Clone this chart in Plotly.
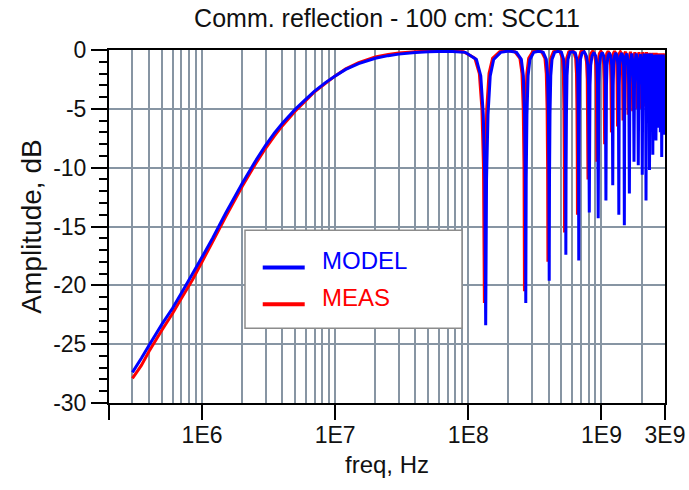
import plotly.graph_objects as go

# ---------------- data ----------------
TITLE = "Comm. reflection - 100 cm: SCC11"

MODEL_FREQ = [
    3.0e5, 3.5e5, 4.0e5, 5.0e5, 6.0e5, 7.0e5, 8.5e5, 1.0e6, 1.2e6, 1.5e6, 2.0e6, 2.5e6, 3.0e6, 3.5e6,
    4.0e6, 5.0e6, 6.0e6, 7.0e6, 8.5e6, 1.0e7, 1.2e7, 1.5e7, 2.0e7, 2.5e7, 3.0e7, 4.0e7, 5.0e7, 7.0e7,
    0.95e8, 1.15e8, 1.24e8, 1.295e8, 1.33e8, 1.35e8, 1.37e8, 1.405e8, 1.46e8, 1.55e8, 1.75e8, 2.02e8,
    2.30e8, 2.50e8, 2.59e8, 2.645e8, 2.68e8, 2.70e8, 2.72e8, 2.755e8, 2.81e8, 2.90e8, 3.10e8, 3.37e8,
    3.65e8, 3.85e8, 3.94e8, 3.995e8, 4.03e8, 4.05e8, 4.07e8, 4.105e8, 4.16e8, 4.25e8, 4.45e8, 4.72e8,
    5.00e8, 5.20e8, 5.29e8, 5.345e8, 5.38e8, 5.40e8, 5.42e8, 5.455e8, 5.51e8, 5.60e8, 5.80e8, 6.07e8,
    6.35e8, 6.55e8, 6.64e8, 6.695e8, 6.73e8, 6.75e8, 6.77e8, 6.805e8, 6.86e8, 6.95e8, 7.15e8, 7.42e8,
    7.70e8, 7.90e8, 8.00e8, 8.10e8, 8.20e8, 8.30e8, 8.50e8, 8.775e8,
    9.05e8, 9.25e8, 9.35e8, 9.45e8, 9.55e8, 9.65e8, 9.85e8, 1.0125e9,
    1.04e9, 1.06e9, 1.07e9, 1.08e9, 1.09e9, 1.10e9, 1.12e9, 1.1475e9,
    1.175e9, 1.195e9, 1.205e9, 1.215e9, 1.225e9, 1.235e9, 1.255e9, 1.2825e9,
    1.31e9, 1.33e9, 1.34e9, 1.35e9, 1.36e9, 1.37e9, 1.39e9, 1.4175e9,
    1.445e9, 1.465e9, 1.475e9, 1.485e9, 1.495e9, 1.505e9, 1.525e9, 1.5525e9,
    1.585e9, 1.605e9, 1.62e9, 1.635e9, 1.655e9, 1.6875e9,
    1.72e9, 1.74e9, 1.755e9, 1.77e9, 1.79e9, 1.8225e9,
    1.855e9, 1.875e9, 1.89e9, 1.905e9, 1.925e9, 1.9575e9,
    1.99e9, 2.01e9, 2.025e9, 2.04e9, 2.06e9, 2.085e9, 2.0925e9, 2.10e9,
    2.125e9, 2.145e9, 2.16e9, 2.175e9, 2.195e9, 2.22e9, 2.2275e9, 2.235e9,
    2.26e9, 2.28e9, 2.295e9, 2.31e9, 2.33e9, 2.355e9, 2.3625e9, 2.37e9,
    2.395e9, 2.415e9, 2.43e9, 2.445e9, 2.465e9, 2.49e9, 2.4975e9, 2.505e9,
    2.53e9, 2.55e9, 2.565e9, 2.58e9, 2.60e9, 2.625e9, 2.6325e9, 2.64e9,
    2.665e9, 2.685e9, 2.70e9, 2.715e9, 2.735e9, 2.76e9, 2.7675e9, 2.775e9,
    2.80e9, 2.82e9, 2.835e9, 2.85e9, 2.87e9, 2.895e9, 2.9025e9, 2.91e9,
    2.935e9, 2.955e9, 2.97e9, 2.985e9, 3.0e9,
]
MODEL_DB = [
    -27.4, -26.2, -25.1, -23.3, -21.95, -20.65, -19.0, -17.6, -16.0, -13.9, -11.35, -9.5, -8.1, -7.05,
    -6.25, -5.05, -4.2, -3.5, -2.75, -2.2, -1.65, -1.15, -0.70, -0.48, -0.35, -0.22, -0.15, -0.10,
    -0.2, -0.8, -2.2, -5.5, -11.0, -23.4, -11.0, -5.5, -2.2, -0.8, -0.2, -0.08,
    -0.2, -0.8, -2.2, -5.5, -11.0, -21.5, -11.0, -5.5, -2.2, -0.8, -0.2, -0.10,
    -0.2, -0.8, -2.2, -5.5, -11.0, -19.6, -11.0, -5.5, -2.2, -0.8, -0.2, -0.12,
    -0.2, -0.8, -2.2, -5.5, -10.5, -17.4, -10.5, -5.5, -2.2, -0.8, -0.2, -0.15,
    -0.25, -0.8, -2.2, -5.5, -10.5, -17.9, -10.5, -5.5, -2.2, -0.8, -0.25, -0.15,
    -0.5, -1.3, -3.0, -13.8, -3.0, -1.3, -0.5, -0.2,
    -0.5, -1.3, -3.0, -14.3, -3.0, -1.3, -0.5, -0.2,
    -0.5, -1.3, -3.0, -12.8, -3.0, -1.3, -0.5, -0.25,
    -0.5, -1.3, -3.0, -11.5, -3.0, -1.3, -0.5, -0.25,
    -0.5, -1.3, -3.0, -14.0, -3.0, -1.3, -0.5, -0.25,
    -0.5, -1.3, -3.0, -14.9, -3.0, -1.3, -0.5, -0.3,
    -1.0, -3.0, -12.2, -3.0, -1.0, -0.3,
    -1.0, -3.0, -9.5, -3.0, -1.0, -0.3,
    -1.0, -3.0, -9.8, -3.0, -1.0, -0.35,
    -1.0, -3.0, -10.6, -3.0, -1.0, -0.3, -4.5, -0.3,
    -1.0, -3.0, -12.8, -3.0, -1.0, -0.3, -5.0, -0.3,
    -1.0, -3.0, -10.2, -3.0, -1.0, -0.3, -5.5, -0.3,
    -1.0, -3.2, -8.9, -3.2, -1.0, -0.4, -6.0, -0.4,
    -1.0, -3.2, -7.7, -3.2, -1.0, -0.4, -6.5, -0.4,
    -1.0, -3.2, -6.6, -3.2, -1.0, -0.4, -7.0, -0.4,
    -1.0, -3.2, -9.1, -3.2, -1.0, -0.4, -6.5, -0.4,
    -1.0, -3.2, -7.2, -3.2, -1.0,
]

MEAS_FREQ = [
    3.0e5, 3.5e5, 4.0e5, 5.0e5, 6.0e5, 7.0e5, 8.5e5, 1.0e6, 1.2e6, 1.5e6, 2.0e6, 2.5e6, 3.0e6, 3.5e6,
    4.0e6, 5.0e6, 6.0e6, 7.0e6, 8.5e6, 1.0e7, 1.2e7, 1.5e7, 2.0e7, 2.5e7, 3.0e7, 4.0e7, 5.0e7, 7.0e7,
    0.92e8, 1.12e8, 1.21e8, 1.265e8, 1.30e8, 1.32e8, 1.34e8, 1.375e8, 1.43e8, 1.52e8, 1.72e8, 1.98e8,
    2.24e8, 2.44e8, 2.53e8, 2.585e8, 2.62e8, 2.64e8, 2.66e8, 2.695e8, 2.75e8, 2.84e8, 3.04e8, 3.30e8,
    3.56e8, 3.76e8, 3.85e8, 3.905e8, 3.94e8, 3.96e8, 3.98e8, 4.015e8, 4.07e8, 4.16e8, 4.36e8, 4.62e8,
    4.88e8, 5.08e8, 5.17e8, 5.225e8, 5.26e8, 5.28e8, 5.30e8, 5.335e8, 5.39e8, 5.48e8, 5.68e8, 5.94e8,
    6.20e8, 6.40e8, 6.49e8, 6.545e8, 6.58e8, 6.60e8, 6.62e8, 6.655e8, 6.71e8, 6.80e8, 7.00e8, 7.26e8,
    7.52e8, 7.72e8, 7.82e8, 7.92e8, 8.02e8, 8.12e8, 8.32e8, 8.58e8,
    8.84e8, 9.04e8, 9.14e8, 9.24e8, 9.34e8, 9.44e8, 9.64e8, 9.90e8,
    1.016e9, 1.036e9, 1.046e9, 1.056e9, 1.066e9, 1.076e9, 1.096e9, 1.122e9,
    1.148e9, 1.168e9, 1.178e9, 1.188e9, 1.198e9, 1.208e9, 1.228e9, 1.254e9,
    1.280e9, 1.300e9, 1.310e9, 1.320e9, 1.330e9, 1.340e9, 1.360e9, 1.386e9,
    1.412e9, 1.432e9, 1.442e9, 1.452e9, 1.462e9, 1.472e9, 1.492e9, 1.518e9,
    1.549e9, 1.569e9, 1.584e9, 1.599e9, 1.619e9, 1.650e9,
    1.681e9, 1.701e9, 1.716e9, 1.731e9, 1.751e9, 1.782e9,
    1.813e9, 1.833e9, 1.848e9, 1.863e9, 1.883e9, 1.914e9,
    1.945e9, 1.965e9, 1.980e9, 1.995e9, 2.015e9, 2.046e9,
    2.077e9, 2.097e9, 2.112e9, 2.127e9, 2.147e9, 2.178e9,
    2.209e9, 2.229e9, 2.244e9, 2.259e9, 2.279e9, 2.310e9,
    2.341e9, 2.361e9, 2.376e9, 2.391e9, 2.411e9, 2.442e9,
    2.473e9, 2.493e9, 2.508e9, 2.523e9, 2.543e9, 2.574e9,
    2.605e9, 2.625e9, 2.640e9, 2.655e9, 2.675e9, 2.706e9,
    2.737e9, 2.757e9, 2.772e9, 2.787e9, 2.807e9, 2.838e9,
    2.869e9, 2.889e9, 2.904e9, 2.919e9, 2.939e9, 3.0e9,
]
MEAS_DB = [
    -27.9, -26.8, -25.6, -23.8, -22.4, -21.1, -19.5, -18.0, -16.3, -14.2, -11.6, -9.75, -8.35, -7.3,
    -6.45, -5.2, -4.3, -3.55, -2.8, -2.2, -1.6, -1.08, -0.6, -0.38, -0.25, -0.15, -0.10, -0.08,
    -0.15, -0.7, -2.0, -5.0, -10.0, -21.5, -10.0, -5.0, -2.0, -0.7, -0.15, -0.05,
    -0.15, -0.7, -2.0, -5.0, -10.0, -20.5, -10.0, -5.0, -2.0, -0.7, -0.15, -0.05,
    -0.15, -0.7, -2.0, -5.0, -10.0, -18.0, -10.0, -5.0, -2.0, -0.7, -0.15, -0.05,
    -0.15, -0.7, -2.0, -5.0, -9.5, -15.5, -9.5, -5.0, -2.0, -0.7, -0.15, -0.05,
    -0.15, -0.7, -2.0, -5.0, -9.0, -14.0, -9.0, -5.0, -2.0, -0.7, -0.15, -0.05,
    -0.3, -1.0, -2.5, -11.0, -2.5, -1.0, -0.3, -0.1,
    -0.3, -1.0, -2.5, -9.5, -2.5, -1.0, -0.3, -0.1,
    -0.3, -1.0, -2.5, -8.0, -2.5, -1.0, -0.3, -0.1,
    -0.3, -1.0, -2.5, -7.0, -2.5, -1.0, -0.3, -0.1,
    -0.3, -1.0, -2.5, -6.5, -2.5, -1.0, -0.3, -0.15,
    -0.3, -1.0, -2.5, -6.0, -2.5, -1.0, -0.3, -0.15,
    -0.6, -2.0, -5.5, -2.0, -0.6, -0.15,
    -0.6, -2.0, -5.2, -2.0, -0.6, -0.2,
    -0.6, -2.0, -5.0, -2.0, -0.6, -0.2,
    -0.6, -2.0, -5.0, -2.0, -0.6, -0.2,
    -0.6, -2.0, -4.8, -2.0, -0.6, -0.2,
    -0.6, -2.0, -4.5, -2.0, -0.6, -0.25,
    -0.6, -2.0, -4.3, -2.0, -0.6, -0.25,
    -0.6, -2.0, -4.0, -2.0, -0.6, -0.25,
    -0.6, -2.0, -4.0, -2.0, -0.6, -0.3,
    -0.6, -2.0, -3.8, -2.0, -0.6, -0.3,
    -0.6, -2.0, -3.6, -2.0, -0.6, -0.3,
]

X_TICK_VALS = [2e5, 1e6, 1e7, 1e8, 1e9, 3e9]
X_TICK_TEXT = ["", "1E6", "1E7", "1E8", "1E9", "3E9"]
X_GRID_VALS = [3e5, 4e5, 5e5, 6e5, 7e5, 8e5, 9e5,
               2e6, 3e6, 4e6, 5e6, 6e6, 7e6, 8e6, 9e6,
               2e7, 3e7, 4e7, 5e7, 6e7, 7e7, 8e7, 9e7,
               2e8, 3e8, 4e8, 5e8, 6e8, 7e8, 8e8, 9e8,
               2e9]
Y_TICK_VALS = [-30, -25, -20, -15, -10, -5, 0]
Y_TICK_TEXT = ["-30", "-25", "-20", "-15", "-10", "-5", "0"]
LEGEND_NAMES = ["MODEL", "MEAS"]
COLORS = {"MODEL": "#0000ff", "MEAS": "#ff0000"}

FONT = "Arial, 'Liberation Sans', sans-serif"
GRID = "#8795a3"
TXT = "#111111"

fig = go.Figure()
fig.add_trace(go.Scatter(x=MEAS_FREQ, y=MEAS_DB, mode="lines", name="MEAS",
                         line=dict(color=COLORS["MEAS"], width=3, simplify=False),
                         showlegend=False))
fig.add_trace(go.Scatter(x=MODEL_FREQ, y=MODEL_DB, mode="lines", name="MODEL",
                         line=dict(color=COLORS["MODEL"], width=3, simplify=False),
                         showlegend=False))

# manual legend box (paper coords of the plot area)
fig.add_shape(type="rect", xref="paper", yref="paper", x0=0.2446, x1=0.6349, y0=0.2118, y1=0.4897,
              fillcolor="white", line=dict(color="#8c8c8c", width=1.5), layer="above")
leg_rows = [(LEGEND_NAMES[0], 0.3839, 0.4026), (LEGEND_NAMES[1], 0.2798, 0.2977)]
for name, ly, ty in leg_rows:
    fig.add_shape(type="line", xref="paper", yref="paper", x0=0.2765, x1=0.3520, y0=ly, y1=ly,
                  line=dict(color=COLORS[name], width=4), layer="above")
    fig.add_annotation(xref="paper", yref="paper", x=0.3795, y=ty, text=name, showarrow=False,
                       xanchor="left", yanchor="middle",
                       font=dict(family=FONT, size=24, color=COLORS[name]))

fig.update_layout(
    width=689, height=490,
    margin=dict(l=109, r=24, t=50, b=87, autoexpand=False),
    paper_bgcolor="white", plot_bgcolor="white",
    showlegend=False,
    font=dict(family=FONT, size=22, color=TXT),
    title=dict(text=TITLE, x=0.5, xref="paper", y=1 - 18 / 490, yref="container",
               xanchor="center", yanchor="middle",
               font=dict(family=FONT, size=25, color=TXT)),
)
fig.update_xaxes(
    type="log", range=[5.30103, 9.47712], automargin=False,
    tickmode="array", tickvals=X_TICK_VALS, ticktext=X_TICK_TEXT,
    ticks="outside", ticklen=15, tickwidth=2, tickcolor="black",
    ticklabelstandoff=-5,
    showgrid=True, gridcolor=GRID, gridwidth=1.8,
    minor=dict(tickmode="array", tickvals=X_GRID_VALS, showgrid=True, gridcolor=GRID,
               gridwidth=1.8, ticks=""),
    showline=True, linecolor="black", linewidth=2, mirror=True,
    zeroline=False,
    tickfont=dict(family=FONT, size=23, color=TXT),
    title=dict(text="freq, Hz", standoff=10, font=dict(family=FONT, size=24, color=TXT)),
)
fig.update_yaxes(
    range=[-30, 0], automargin=False,
    tickmode="array", tickvals=Y_TICK_VALS, ticktext=Y_TICK_TEXT,
    ticks="outside", ticklen=16, tickwidth=2, tickcolor="black",
    showgrid=True, gridcolor=GRID, gridwidth=1.8,
    minor=dict(dtick=1, ticks="outside", ticklen=8, tickwidth=2, tickcolor="black", showgrid=False),
    showline=True, linecolor="black", linewidth=2, mirror=True,
    zeroline=False,
    tickfont=dict(family=FONT, size=23, color=TXT),
    title=dict(text="Amplitude, dB", standoff=3, font=dict(family=FONT, size=28, color=TXT)),
)

fig.write_html("out.html")
